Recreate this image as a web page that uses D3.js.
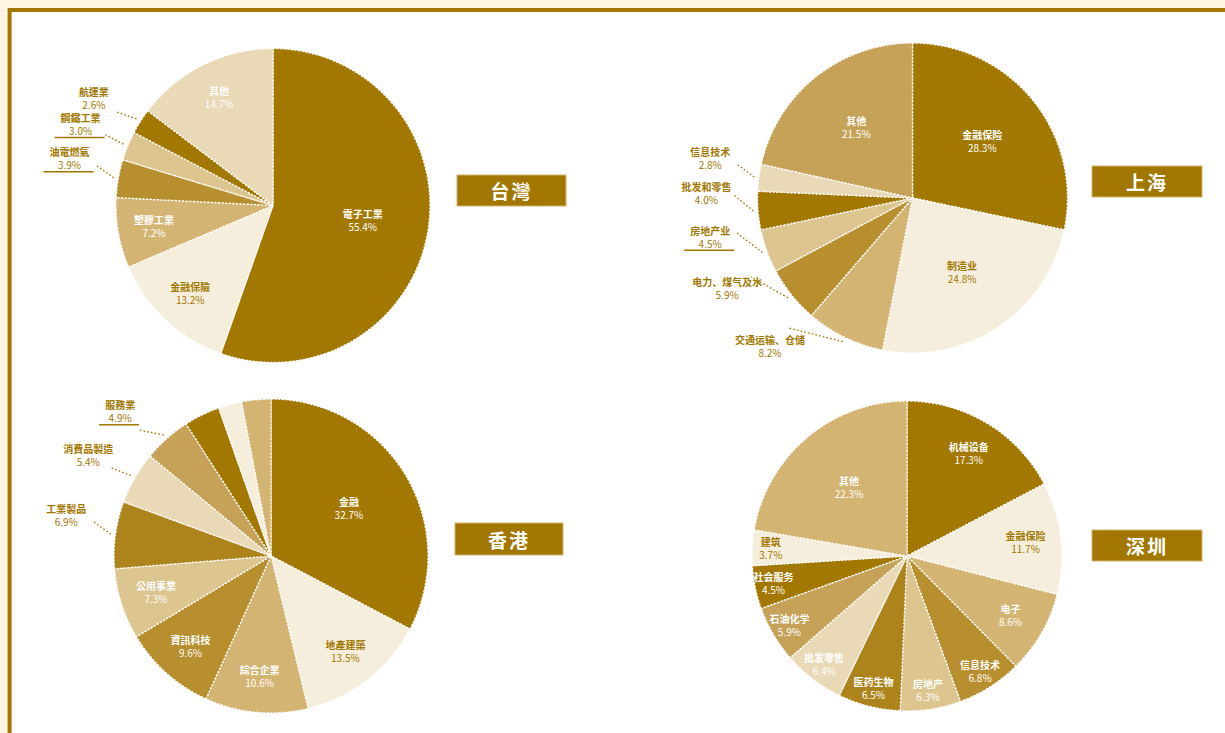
<!DOCTYPE html>
<html>
<head>
<meta charset="utf-8">
<script src="https://cdn.jsdelivr.net/npm/d3@7"></script>
<style>
  html, body { margin: 0; padding: 0; background: #fff5e2; }
  svg { display: block; }
</style>
</head>
<body>
<svg id="chart" width="1225" height="733"></svg>
<script>
// ---- 各市場市值產業分佈（%） ----
const twCategories = ["電子工業", "金融保險", "塑膠工業", "油電燃氣", "鋼鐵工業", "航運業", "其他"];
const twValues     = [55.4, 13.2, 7.2, 3.9, 3.0, 2.6, 14.7];
const twLabelModes = ["in", "in", "in", "out", "out", "out", "in"];

const shCategories = ["金融保险", "制造业", "交通运输、仓储", "电力、煤气及水", "房地产业", "批发和零售", "信息技术", "其他"];
const shValues     = [28.3, 24.8, 8.2, 5.9, 4.5, 4.0, 2.8, 21.5];
const shLabelModes = ["in", "in", "out", "out", "out", "out", "out", "in"];

const hkCategories = ["金融", "地產建築", "綜合企業", "資訊科技", "公用事業", "工業製品", "消費品製造", "服務業", "原材料", "酒店消閒", "其他"];
const hkValues     = [32.7, 13.5, 10.6, 9.6, 7.3, 6.9, 5.4, 4.9, 3.7, 2.4, 3.0];
const hkLabelModes = ["in", "in", "in", "in", "in", "out", "out", "out", "none", "none", "none"];

const szCategories = ["机械设备", "金融保险", "电子", "信息技术", "房地产", "医药生物", "批发零售", "石油化学", "社会服务", "建筑", "其他"];
const szValues     = [17.3, 11.7, 8.6, 6.8, 6.3, 6.5, 6.4, 5.9, 4.5, 3.7, 22.3];
const szLabelModes = ["in", "in", "in", "in", "in", "in", "in", "in", "in", "in", "in"];

const titles = ["台灣", "上海", "香港", "深圳"];

// ---- palette ----
const C = {
  dark:  "#a37800",
  cream: "#f6eedc",
  tan:   "#d4b472",
  med:   "#b88f2f",
  ltan:  "#ddc58f",
  beige: "#e9d9b6",
  mtan:  "#c5a257",
  mdark: "#ad841b"
};
const GOLD = "#a27700";
const TC = "'Noto Sans CJK TC', 'Noto Sans CJK SC', sans-serif";
const SC = "'Noto Sans CJK SC', 'Noto Sans CJK TC', sans-serif";

const pies = [
  { title: titles[0], cats: twCategories, vals: twValues, modes: twLabelModes, font: TC,
    cx: 273, cy: 205.5, r: 157,
    colors: [C.dark, C.cream, C.tan, C.med, C.ltan, C.dark, C.beige],
    box: { x: 457, y: 175, w: 109, h: 31 }, underlined: ["油電燃氣", "鋼鐵工業"] },
  { title: titles[1], cats: shCategories, vals: shValues, modes: shLabelModes, font: SC,
    cx: 912.5, cy: 198, r: 155,
    colors: [C.dark, C.cream, C.tan, C.med, C.ltan, C.dark, C.beige, C.mtan],
    box: { x: 1092, y: 166, w: 110, h: 31 }, underlined: ["房地产业"] },
  { title: titles[2], cats: hkCategories, vals: hkValues, modes: hkLabelModes, font: TC,
    cx: 271, cy: 556, r: 157,
    colors: [C.dark, C.cream, C.tan, C.med, C.ltan, C.mdark, C.beige, C.mtan, C.dark, C.cream, C.tan],
    box: { x: 455, y: 523, w: 108, h: 32 }, underlined: ["服務業"] },
  { title: titles[3], cats: szCategories, vals: szValues, modes: szLabelModes, font: SC,
    cx: 907, cy: 556, r: 155,
    colors: [C.dark, C.cream, C.tan, C.med, C.ltan, C.mdark, C.beige, C.mtan, C.dark, C.cream, C.tan],
    box: { x: 1092, y: 530, w: 110, h: 31 }, underlined: [] }
];

const svg = d3.select("#chart");
const W = 1225, H = 733;

// page background, white panel and gold frame (top and left edges)
svg.append("rect").attr("width", W).attr("height", H).attr("fill", "#fff5e2");
svg.append("rect").attr("x", 11.5).attr("y", 12).attr("width", W).attr("height", H).attr("fill", "#ffffff");
svg.append("path").attr("d", `M9.6,${H} V10 H${W}`)
  .attr("fill", "none").attr("stroke", GOLD).attr("stroke-width", 4);

const pieGen = d3.pie().sort(null).value(d => d.v);
const pt = (cx, cy, R, a) => [cx + R * Math.sin(a), cy - R * Math.cos(a)];
const fmt = v => d3.format(".1f")(v) + "%";

pies.forEach(p => {
  const rows = p.cats.map((c, i) => ({ c, v: p.vals[i], mode: p.modes[i], color: p.colors[i] }));
  const total = d3.sum(rows, d => d.v);
  const arcs = pieGen(rows);
  const g = svg.append("g").attr("transform", `translate(${p.cx},${p.cy})`)
    .style("font-family", p.font);
  const arc = d3.arc().innerRadius(0).outerRadius(p.r);

  g.selectAll("path.slice").data(arcs).join("path")
    .attr("class", "slice")
    .attr("d", arc)
    .attr("fill", d => d.data.color)
    .attr("stroke", "#ffffff")
    .attr("stroke-width", 1.4)
    .attr("stroke-dasharray", "2,1.6");

  // labels inside the slices (gold on the palest fill, white elsewhere)
  arcs.filter(d => d.data.mode === "in").forEach(d => {
    const pct = d.data.v / total * 100;
    const k = pct > 20 ? 0.58 : (pct >= 7 ? 0.77 : 0.88);
    const mid = (d.startAngle + d.endAngle) / 2;
    const [x, y] = pt(0, 0, p.r * k, mid);
    const t = g.append("text").attr("x", x).attr("y", y)
      .attr("text-anchor", "middle")
      .attr("fill", d.data.color === C.cream ? GOLD : "#ffffff")
      .attr("font-size", 10).attr("font-weight", 700);
    t.append("tspan").attr("x", x).attr("dy", "-0.25em").text(d.data.c);
    t.append("tspan").attr("x", x).attr("dy", "1.3em").attr("font-weight", 400).text(fmt(d.data.v));
  });

  // labels outside the slices, with dotted leaders
  arcs.filter(d => d.data.mode === "out").forEach(d => {
    const mid = (d.startAngle + d.endAngle) / 2;
    const midDeg = mid * 180 / Math.PI;
    const shifted = (midDeg + 5 + 0.2 * (270 - midDeg)) * Math.PI / 180;
    const [x1, y1] = pt(0, 0, p.r * 1.03, mid);
    const [x2, y2] = pt(0, 0, p.r * 1.16, shifted);
    const [lx, ly] = pt(0, 0, p.r * 1.33, shifted);
    g.append("line").attr("x1", x1).attr("y1", y1).attr("x2", x2).attr("y2", y2)
      .attr("stroke", GOLD).attr("stroke-width", 1.3).attr("stroke-dasharray", "1.6,2.2");
    const t = g.append("text").attr("x", lx).attr("y", ly)
      .attr("text-anchor", "middle").attr("fill", GOLD)
      .attr("font-size", 10).attr("font-weight", 700);
    t.append("tspan").attr("x", lx).attr("dy", "-0.25em").text(d.data.c);
    t.append("tspan").attr("x", lx).attr("dy", "1.3em").attr("font-weight", 400).text(fmt(d.data.v));
    if (p.underlined.includes(d.data.c)) {
      const w = t.node().getBBox().width;
      g.append("line").attr("x1", lx - w / 2 - 6).attr("x2", lx + w / 2 + 4)
        .attr("y1", ly + 13).attr("y2", ly + 13)
        .attr("stroke", GOLD).attr("stroke-width", 1.5);
    }
  });

  // title box
  const b = p.box;
  svg.append("rect").attr("x", b.x).attr("y", b.y).attr("width", b.w).attr("height", b.h)
    .attr("fill", GOLD).attr("stroke", "#d2b56e").attr("stroke-width", 1);
  svg.append("text").attr("x", b.x + b.w / 2).attr("y", b.y + b.h / 2)
    .attr("text-anchor", "middle").attr("dominant-baseline", "central")
    .attr("fill", "#ffffff").attr("font-size", 19).attr("font-weight", 700)
    .attr("letter-spacing", 2)
    .style("font-family", p.font)
    .text(p.title);
});
</script>
</body>
</html>
